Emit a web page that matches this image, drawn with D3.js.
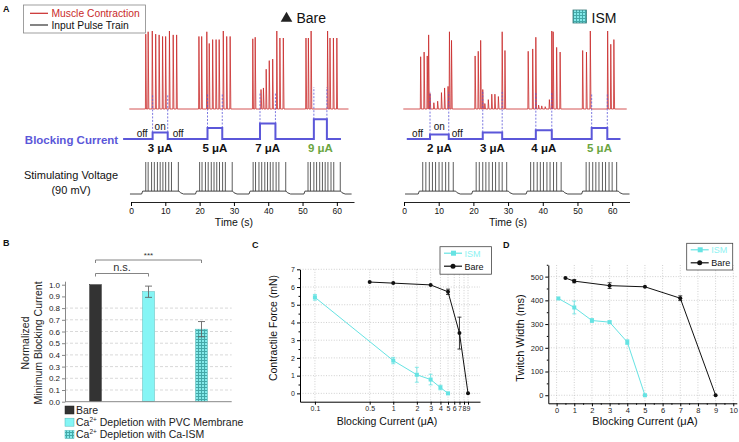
<!DOCTYPE html>
<html><head><meta charset="utf-8">
<script src="https://cdn.jsdelivr.net/npm/d3@7"></script>
<style>body{margin:0;background:#fff}svg{display:block;font-family:"Liberation Sans",Arial,sans-serif}</style>
</head><body><svg id="c" width="739" height="442"></svg>
<script>
// ---------- DATA ----------
const timeTicks = [0, 10, 20, 30, 40, 50, 60];
// Panel A, Bare
const bareCurrents = [3, 5, 7, 9];
const bareSteps = [[6.3, 10.7], [22.3, 26.6], [37.6, 42.1], [53.3, 57.1]];
const bareBursts = [[3.4, 14.0], [19.1, 29.6], [34.7, 45.2], [50.7, 61.1]];
const barePulses = [4.3, 5.0, 6.0, 6.8, 7.7, 8.5, 9.3, 10.1, 11.0, 11.8, 13.8,
  20.0, 20.7, 21.7, 22.5, 23.4, 24.2, 25.0, 25.8, 26.7, 27.5, 29.5,
  35.6, 36.3, 37.3, 38.1, 39.0, 39.8, 40.6, 41.4, 42.3, 43.1, 45.1,
  51.6, 52.3, 53.3, 54.1, 55.0, 55.8, 56.6, 57.4, 58.3, 59.1, 61.0];
const bareTwitch = [[4.3, .96], [5.0, .99], [6.2, 1.0], [7.2, .96], [8.2, .95], [9.2, .93], [10.1, .93], [11.2, 1.0], [12.3, .95], [13.3, .95],
  [19.8, .93], [20.6, .93], [22.1, .99], [22.8, .84], [23.8, .89], [24.8, .89], [25.7, .89], [26.9, 1.0], [27.9, .93], [28.9, .93],
  [35.5, .90], [36.2, .92], [37.9, .25], [38.6, .27], [39.4, .51], [40.3, .62], [41.3, .64], [42.5, 1.0], [43.4, .91], [44.4, .91],
  [51.0, .91], [51.7, .91], [52.5, 1.0], [57.3, 1.0], [58.0, .91], [59.0, .91], [60.0, .91]];
// Panel A, ISM
const ismCurrents = [2, 3, 4, 5];
const ismSteps = [[7.5, 12.9], [22.7, 28.3], [38.0, 42.6], [54.1, 58.6]];
const ismBursts = [[4.4, 14.9], [19.8, 30.1], [35.5, 45.9], [51.5, 61.8]];
const ismPulses = [5.4, 6.3, 7.3, 8.2, 9.1, 10.1, 11.0, 12.0, 12.9, 14.2,
  20.8, 21.7, 22.7, 23.6, 24.5, 25.5, 26.4, 27.4, 28.3, 29.6,
  36.5, 37.4, 38.4, 39.3, 40.2, 41.2, 42.1, 43.1, 44.0, 45.3,
  52.5, 53.4, 54.4, 55.3, 56.2, 57.2, 58.1, 59.1, 60.0, 61.3];
const ismTwitch = [[4.8, .67], [5.8, .73], [6.7, .68], [7.1, .95], [7.5, .2], [8.6, .08], [9.7, .1], [10.8, .21], [11.7, .27], [12.7, .29], [13.1, .99], [13.7, .88],
  [20.5, .68], [21.4, .74], [22.1, .88], [22.7, .25], [23.3, .07], [24.3, .12], [25.3, .19], [26.2, .19], [27.2, .16], [28.3, .99], [29.1, .75],
  [35.8, .74], [37.1, .77], [38.0, .92], [38.8, .05], [39.7, .04], [40.7, .03], [41.9, .12], [42.6, 1.0], [43.0, .99], [44.0, .79], [45.0, .73],
  [51.5, .75], [52.6, .73], [53.7, 1.0], [58.7, 1.0], [59.6, .83], [60.5, .89]];

// Panel B
const bCategories = ["Bare", "PVC", "ISM"];
const bValues = [1.0, 0.94, 0.62];
const bErrors = [0, 0.048, 0.065];
const bTicks = [0, .1, .2, .3, .4, .5, .6, .7, .8, .9, 1.0];

// Panel C
const cTicksX = [0.1, 0.5, 1, 2, 3, 4, 5, 6, 7, 8, 9];
const cTicksY = [0, 1, 2, 3, 4, 5, 6, 7];
const cIsmX = [0.1, 1, 2, 3, 4, 5];
const cIsmY = [5.42, 1.85, 1.05, 0.78, 0.33, 0];
const cIsmErr = [0.16, 0.18, 0.42, 0.3, 0.13, 0];
const cBareX = [0.5, 1, 3, 5, 7, 9];
const cBareY = [6.28, 6.22, 6.12, 5.73, 3.4, 0];
const cBareErr = [0, 0, 0, 0.15, 0.9, 0];

// Panel D
const dTicksX = [0, 1, 2, 3, 4, 5, 6, 7, 8, 9, 10];
const dTicksY = [0, 100, 200, 300, 400, 500];
const dIsmX = [0.1, 1, 2, 3, 4, 5];
const dIsmY = [408, 370, 315, 308, 224, 0];
const dIsmErr = [0, 27, 8, 5, 10, 0];
const dBareX = [0.5, 1, 3, 5, 7, 9];
const dBareY = [494, 481, 462, 457, 409, 0];
const dBareErr = [0, 7, 12, 0, 10, 0];

// ---------- STYLE ----------
const RED = "#c92a2a", BLUE = "#5b57d9", GREEN = "#6aa53f", CYAN = "#66e3e3", CYANBAR = "#85f5f5";

const svg = d3.select("#c");
const defs = svg.append("defs");
const pat = defs.append("pattern").attr("id", "chk").attr("width", 3).attr("height", 3).attr("patternUnits", "userSpaceOnUse");
pat.append("rect").attr("width", 3).attr("height", 3).attr("fill", "#84eaea");
pat.append("rect").attr("width", 3).attr("height", 1).attr("fill", "#44a8a8");
pat.append("rect").attr("width", 1).attr("height", 3).attr("fill", "#44a8a8");

function txt(g, x, y, s, o = {}) {
  const t = g.append("text").attr("x", x).attr("y", y).text(s)
    .attr("font-size", o.size || 10).attr("fill", o.fill || "#111")
    .attr("text-anchor", o.anchor || "start");
  if (o.bold) t.attr("font-weight", "bold");
  return t;
}

// ---------- PANEL A ----------
const yCon = d3.scaleLinear([0, 1], [109, 31]);
const yBlk = d3.scaleLinear([0, 10], [139, 117]);
const yStim = d3.scaleLinear([0, 1], [194, 162]);
const line = d3.line();

function panelA(cfg) {
  const x = cfg.x, g = svg.append("g");
  // contraction
  const cp = [[cfg.conExt[0], 0]];
  cfg.twitch.forEach(([t, a]) => cp.push([t - 0.1, 0], [t, a], [t + 0.2, 0]));
  cp.push([cfg.conExt[1], 0]);
  g.append("path").attr("d", line(cp.map(([t, a]) => [x(t), yCon(a)])))
    .attr("fill", "none").attr("stroke", RED).attr("stroke-width", 0.8).attr("stroke-linejoin", "round");
  // blocking current
  const bp = [[cfg.blkExt[0], 0]];
  cfg.steps.forEach(([a, b], i) => bp.push([a, 0], [a, cfg.currents[i]], [b, cfg.currents[i]], [b, 0]));
  bp.push([cfg.blkExt[1], 0]);
  // dashed guides
  cfg.steps.forEach(([a, b], i) => {
    [a, b].forEach(t => g.append("line").attr("x1", x(t)).attr("x2", x(t))
      .attr("y1", yBlk(cfg.currents[i])).attr("y2", yCon(cfg.guide[i]))
      .attr("stroke", BLUE).attr("stroke-width", 0.8).attr("stroke-dasharray", "2,1.5"));
  });
  g.append("path").attr("d", line(bp.map(([t, c]) => [x(t), yBlk(c)])))
    .attr("fill", "none").attr("stroke", BLUE).attr("stroke-width", 2);
  // off/on labels
  const s0 = cfg.steps[0];
  txt(g, x(s0[0]) - cfg.offGap[0], 137, "off", { size: 10, anchor: "end" });
  txt(g, x((s0[0] + s0[1]) / 2), 130, "on", { size: 10, anchor: "middle" });
  txt(g, x(s0[1]) + cfg.offGap[1], 137, "off", { size: 10 });
  // current labels
  cfg.steps.forEach(([a, b], i) => {
    txt(g, x((a + b) / 2), 152, cfg.currents[i] + " μA", { size: 11.5, bold: true, anchor: "middle", fill: i === 3 ? GREEN : "#111" });
  });
  // stimulation
  const sp = [[cfg.stimExt[0], 0]];
  cfg.bursts.forEach(([s, e]) => sp.push([s - 0.3, 0], [s, 0.09], [e, 0.09], [e + 0.4, 0.04], [e + 1.3, 0]));
  sp.push([cfg.stimExt[1], 0]);
  g.append("path").attr("d", line(sp.map(([t, v]) => [x(t), yStim(v)])))
    .attr("fill", "none").attr("stroke", "#333").attr("stroke-width", 0.9);
  g.selectAll(null).data(cfg.pulses).join("line")
    .attr("x1", d => x(d)).attr("x2", d => x(d)).attr("y1", yStim(0.09)).attr("y2", yStim(1))
    .attr("stroke", "#333").attr("stroke-width", 0.8);
  // axis
  const ax = g.append("g").attr("transform", "translate(0,202)")
    .call(d3.axisBottom(x).tickValues(timeTicks).tickSize(4).tickSizeOuter(0).tickPadding(2));
  ax.selectAll("text").attr("font-size", 8.5).attr("font-family", null).attr("fill", "#111");
  ax.select(".domain").attr("stroke", "#222");
  txt(g, x(30), 226, "Time (s)", { size: 10.5, anchor: "middle" });
}

const xL = d3.scaleLinear([0, 65], [131, 354]);
const xR = d3.scaleLinear([0, 65], [404, 629.5]);
panelA({ x: xL, twitch: bareTwitch, steps: bareSteps, currents: bareCurrents, bursts: bareBursts, pulses: barePulses,
  conExt: [-0.5, 63.4], blkExt: [-2.3, 61.2], stimExt: [-0.3, 64.3], guide: [0.18, 0.2, 0.2, 0.28], offGap: [5, 5] });
panelA({ x: xR, twitch: ismTwitch, steps: ismSteps, currents: ismCurrents, bursts: ismBursts, pulses: ismPulses,
  conExt: [-0.2, 64.2], blkExt: [0.8, 62.4], stimExt: [0.3, 65], guide: [0.22, 0.24, 0.22, 0.2], offGap: [7, 3] });

// A headers
const gA = svg.append("g");
txt(gA, 3, 12, "A", { size: 9, bold: true });
gA.append("rect").attr("x", 23.5).attr("y", 5).attr("width", 122).attr("height", 28)
  .attr("fill", "#fff").attr("stroke", "#888").attr("stroke-width", 0.8);
gA.append("line").attr("x1", 30).attr("x2", 48).attr("y1", 13.3).attr("y2", 13.3).attr("stroke", RED).attr("stroke-width", 1.2);
gA.append("line").attr("x1", 30).attr("x2", 48).attr("y1", 25).attr("y2", 25).attr("stroke", "#333").attr("stroke-width", 1.2);
txt(gA, 51.5, 17, "Muscle Contraction", { size: 10.3, fill: RED });
txt(gA, 51.5, 28.7, "Input Pulse Train", { size: 10.3 });
gA.append("path").attr("d", "M280.7,21.7L286.5,11.7L292.3,21.7Z").attr("fill", "#222");
txt(gA, 296.5, 22.7, "Bare", { size: 14 });
gA.append("rect").attr("x", 573).attr("y", 10).attr("width", 13.5).attr("height", 13)
  .attr("fill", "url(#chk)").attr("stroke", "#3a7a7a").attr("stroke-width", 0.8);
txt(gA, 591.5, 23, "ISM", { size: 14 });
txt(gA, 71.5, 143.5, "Blocking Current", { size: 11.5, bold: true, fill: BLUE, anchor: "middle" });
txt(gA, 71, 179, "Stimulating Voltage", { size: 11, anchor: "middle" });
txt(gA, 71, 194, "(90 mV)", { size: 11, anchor: "middle" });

// ---------- PANEL B ----------
const gB = svg.append("g");
txt(gB, 3, 246, "B", { size: 9, bold: true });
const yB = d3.scaleLinear([0, 1.03], [401.7, 281.2]);
const xB = d3.scaleBand(bCategories, [69, 228]).paddingInner(0.78).paddingOuter(0.39);
gB.selectAll(null).data(bTicks.filter(d => d > 0 && d < 0.85)).join("line")
  .attr("x1", 65).attr("x2", 231.7).attr("y1", d => yB(d)).attr("y2", d => yB(d))
  .attr("stroke", "#c8c8c8").attr("stroke-width", 0.7).attr("stroke-dasharray", "3,2");
const fills = ["#333", CYANBAR, "url(#chk)"];
gB.selectAll(null).data(bValues).join("rect")
  .attr("x", (d, i) => xB(bCategories[i])).attr("width", xB.bandwidth())
  .attr("y", d => yB(d)).attr("height", d => yB(0) - yB(d))
  .attr("fill", (d, i) => fills[i]).attr("stroke", (d, i) => i === 0 ? "#222" : "#4cb8b8").attr("stroke-width", 0.5);
bValues.forEach((v, i) => {
  if (!bErrors[i]) return;
  const cx = xB(bCategories[i]) + xB.bandwidth() / 2;
  const p = d3.path();
  p.moveTo(cx, yB(v + bErrors[i])); p.lineTo(cx, yB(v - bErrors[i]));
  p.moveTo(cx - 3.5, yB(v + bErrors[i])); p.lineTo(cx + 3.5, yB(v + bErrors[i]));
  p.moveTo(cx - 3.5, yB(v - bErrors[i])); p.lineTo(cx + 3.5, yB(v - bErrors[i]));
  gB.append("path").attr("d", p.toString()).attr("stroke", "#666").attr("stroke-width", 0.9).attr("fill", "none");
});
const axB = gB.append("g").attr("transform", "translate(65,0)")
  .call(d3.axisLeft(yB).tickValues(bTicks).tickFormat(d3.format(".1f")).tickSize(3).tickSizeOuter(0).tickPadding(2));
axB.selectAll("text").attr("font-size", 8).attr("font-family", null).attr("fill", "#222");
axB.select(".domain").attr("stroke", "#888");
axB.selectAll(".tick line").attr("stroke", "#888");
gB.append("line").attr("x1", 65).attr("x2", 231.7).attr("y1", yB(0)).attr("y2", yB(0)).attr("stroke", "#888").attr("stroke-width", 1);
// brackets
function bracket(i0, i1, y, label, ly, size) {
  const a = xB(bCategories[i0]) + xB.bandwidth() / 2, b = xB(bCategories[i1]) + xB.bandwidth() / 2;
  gB.append("path").attr("d", `M${a},${y + 3}V${y}H${b}V${y + 3}`).attr("fill", "none").attr("stroke", "#777").attr("stroke-width", 0.9);
  txt(gB, (a + b) / 2, ly, label, { size: size, anchor: "middle", fill: "#333" });
}
bracket(0, 2, 260, "***", 258, 8);
bracket(0, 1, 273.5, "n.s.", 271, 11);
// y title
const yt = gB.append("text").attr("transform", "translate(28.5,343) rotate(-90)").attr("text-anchor", "middle").attr("font-size", 10.5).attr("fill", "#222");
yt.append("tspan").attr("x", 0).attr("dy", 0).text("Normalized");
yt.append("tspan").attr("x", 0).attr("dy", 13).text("Minimum Blocking Current");
// legend
const legB = [["Bare", "#333", ""], ["Ca", CYANBAR, " Depletion with PVC Membrane"], ["Ca", "url(#chk)", " Depletion with Ca-ISM"]];
legB.forEach(([a, f, rest], i) => {
  const y = 410 + i * 12.2;
  gB.append("rect").attr("x", 65).attr("y", y - 4).attr("width", 9).attr("height", 8).attr("fill", f)
    .attr("stroke", i ? "#4cb8b8" : "#222").attr("stroke-width", 0.5);
  const t = gB.append("text").attr("x", 76).attr("y", y + 4).attr("font-size", 10.5).attr("fill", "#222");
  t.append("tspan").text(a);
  if (rest) {
    t.append("tspan").attr("font-size", 6.5).attr("dy", -4).text("2+");
    t.append("tspan").attr("dy", 4).text(rest);
  }
});

// ---------- PANEL C ----------
const gC = svg.append("g");
txt(gC, 252, 248, "C", { size: 9, bold: true });
const xC = d3.scaleLog([0.0645, 12.8], [300, 480]);
const yC = d3.scaleLinear([-0.47, 7], [401.7, 269.3]);
gC.selectAll(null).data(cTicksY).join("line").attr("x1", 300).attr("x2", 480).attr("y1", d => yC(d)).attr("y2", d => yC(d))
  .attr("stroke", "#bbb").attr("stroke-width", 0.7).attr("stroke-dasharray", "1,1.6");
gC.selectAll(null).data(cTicksX).join("line").attr("x1", d => xC(d)).attr("x2", d => xC(d)).attr("y1", 269.3).attr("y2", 401.7)
  .attr("stroke", "#bbb").attr("stroke-width", 0.7).attr("stroke-dasharray", "1,1.6");
function series(g, x, y, xs, ys, es, color, shape) {
  g.append("path").attr("d", line(xs.map((d, i) => [x(d), y(ys[i])]))).attr("fill", "none").attr("stroke", color).attr("stroke-width", 1);
  xs.forEach((d, i) => {
    if (es[i]) {
      const cx = x(d);
      g.append("path").attr("d", `M${cx},${y(ys[i] + es[i])}V${y(ys[i] - es[i])}M${cx - 2},${y(ys[i] + es[i])}H${cx + 2}M${cx - 2},${y(ys[i] - es[i])}H${cx + 2}`)
        .attr("stroke", color).attr("stroke-width", 0.8).attr("fill", "none");
    }
    if (shape === "sq") g.append("rect").attr("x", x(d) - 2).attr("y", y(ys[i]) - 2).attr("width", 4).attr("height", 4).attr("fill", color);
    else g.append("circle").attr("cx", x(d)).attr("cy", y(ys[i])).attr("r", 2).attr("fill", color);
  });
}
series(gC, xC, yC, cIsmX, cIsmY, cIsmErr, CYAN, "sq");
series(gC, xC, yC, cBareX, cBareY, cBareErr, "#111", "c");
const axCx = gC.append("g").attr("transform", "translate(0,401.7)")
  .call(d3.axisBottom(xC).tickValues(cTicksX).tickFormat(d => String(d)).tickSize(3).tickSizeOuter(0).tickPadding(1.5));
const axCy = gC.append("g").attr("transform", "translate(300,0)")
  .call(d3.axisLeft(yC).tickValues(cTicksY).tickSize(3).tickSizeOuter(0).tickPadding(2));
gC.append("g").attr("transform", "translate(300,0)")
  .call(d3.axisLeft(yC).tickValues(cTicksY.map(d => d + 0.5).filter(d => d < 7)).tickSize(1.5).tickFormat(""))
  .select(".domain").remove();
[axCx, axCy].forEach(a => { a.selectAll("text").attr("font-size", 7).attr("font-family", null).attr("fill", "#222"); });
txt(gC, 387, 425, "Blocking Current (μA)", { size: 10.5, anchor: "middle" });
gC.append("text").attr("transform", "translate(277,328) rotate(-90)").attr("text-anchor", "middle").attr("font-size", 10.5).attr("fill", "#111").text("Contractile Force (mN)");
function legend(g, x0, y0, w, h) {
  g.append("rect").attr("x", x0).attr("y", y0).attr("width", w).attr("height", h).attr("fill", "#fff").attr("stroke", "#444").attr("stroke-width", 0.8);
  const lx = x0 + 4, r1 = y0 + 6.5, r2 = y0 + 19.5;
  g.append("line").attr("x1", lx).attr("x2", lx + 18).attr("y1", r1).attr("y2", r1).attr("stroke", CYAN).attr("stroke-width", 1.2);
  g.append("rect").attr("x", lx + 7).attr("y", r1 - 2.5).attr("width", 5).attr("height", 5).attr("fill", CYAN);
  g.append("line").attr("x1", lx).attr("x2", lx + 18).attr("y1", r2).attr("y2", r2).attr("stroke", "#111").attr("stroke-width", 1.2);
  g.append("circle").attr("cx", lx + 9).attr("cy", r2).attr("r", 2.5).attr("fill", "#111");
  txt(g, lx + 20.5, r1 + 3.3, "ISM", { size: 9, fill: "#8ef2f2" });
  txt(g, lx + 20.5, r2 + 3.3, "Bare", { size: 9 });
}
legend(gC, 440, 246.7, 51.5, 27.5);

// ---------- PANEL D ----------
const gD = svg.append("g");
txt(gD, 503, 248, "D", { size: 9, bold: true });
const xD = d3.scaleLinear([-0.47, 10.2], [548.3, 736.8]);
const yD = d3.scaleLinear([-34, 549], [403.3, 265]);
gD.selectAll(null).data(dTicksY).join("line").attr("x1", 548.3).attr("x2", 736.8).attr("y1", d => yD(d)).attr("y2", d => yD(d))
  .attr("stroke", "#bbb").attr("stroke-width", 0.7).attr("stroke-dasharray", "1,1.6");
gD.selectAll(null).data(dTicksX).join("line").attr("x1", d => xD(d)).attr("x2", d => xD(d)).attr("y1", 265).attr("y2", 403.3)
  .attr("stroke", "#bbb").attr("stroke-width", 0.7).attr("stroke-dasharray", "1,1.6");
series(gD, xD, yD, dIsmX, dIsmY, dIsmErr, CYAN, "sq");
series(gD, xD, yD, dBareX, dBareY, dBareErr, "#111", "c");
const axDx = gD.append("g").attr("transform", "translate(0,403.3)")
  .call(d3.axisBottom(xD).tickValues(dTicksX).tickSize(3).tickSizeOuter(0).tickPadding(1));
gD.append("g").attr("transform", "translate(0,403.3)")
  .call(d3.axisBottom(xD).tickValues(dTicksX.map(d => d + 0.5).filter(d => d < 10.2)).tickSize(1.5).tickFormat(""))
  .select(".domain").remove();
const axDy = gD.append("g").attr("transform", "translate(548.3,0)")
  .call(d3.axisLeft(yD).tickValues(dTicksY).tickSize(3).tickSizeOuter(0).tickPadding(2));
gD.append("g").attr("transform", "translate(548.3,0)")
  .call(d3.axisLeft(yD).tickValues(dTicksY.map(d => d + 50)).tickSize(1.5).tickFormat(""))
  .select(".domain").remove();
[axDx, axDy].forEach(a => { a.selectAll("text").attr("font-size", 7.5).attr("font-family", null).attr("fill", "#222"); });
txt(gD, 645, 425, "Blocking Current (μA)", { size: 11, anchor: "middle" });
gD.append("text").attr("transform", "translate(524,338) rotate(-90)").attr("text-anchor", "middle").attr("font-size", 11).attr("fill", "#111").text("Twitch Width (ms)");
legend(gD, 686.7, 243.3, 46, 26.7);
</script></body></html>
